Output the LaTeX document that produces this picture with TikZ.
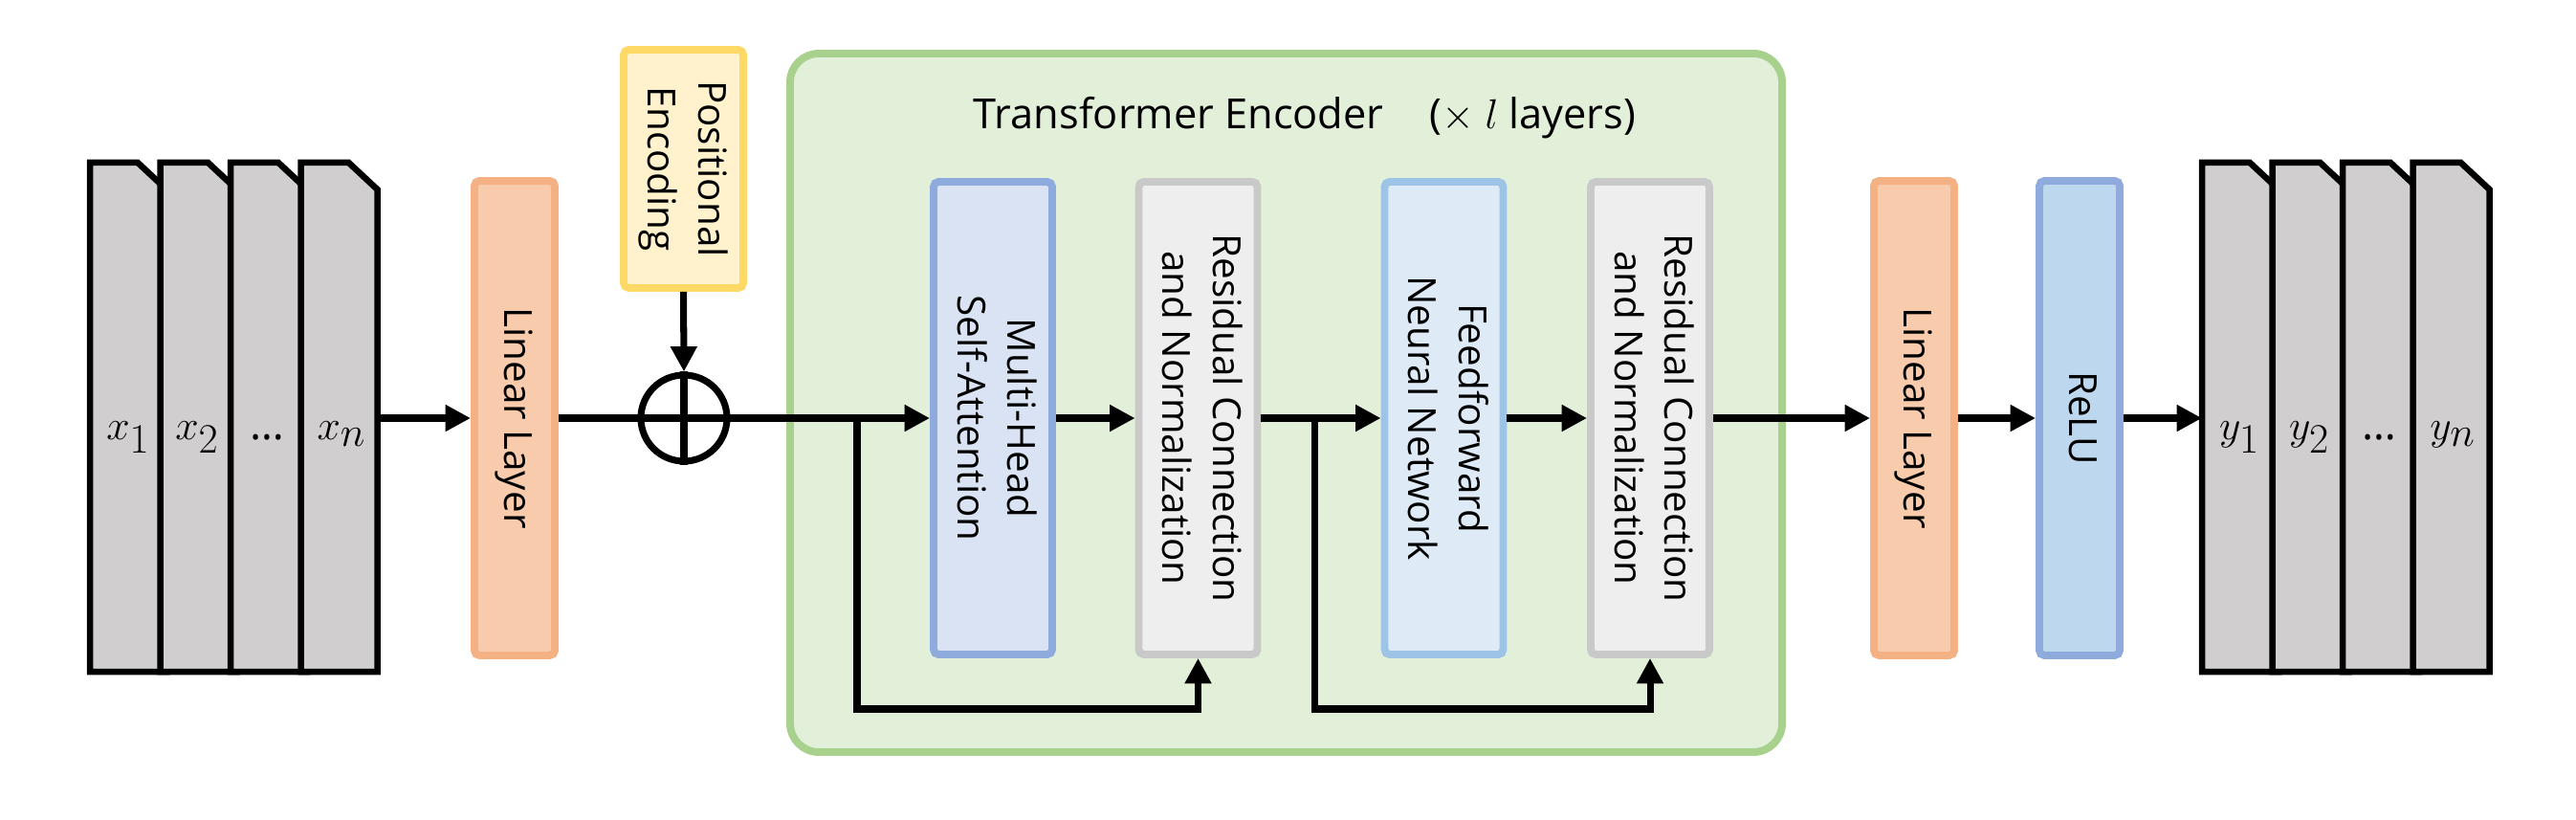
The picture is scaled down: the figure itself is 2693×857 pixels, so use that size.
\documentclass[tikz,border=0pt]{standalone}
\usepackage{fontspec}
\setmainfont{Open Sans}
\usepackage{graphicx}
\usepackage{tikz}
\usetikzlibrary{arrows.meta}

\definecolor{cardgray}{HTML}{D0CECE}
\definecolor{peachfill}{HTML}{F8CBAD}
\definecolor{peachline}{HTML}{F4B183}
\definecolor{yellowfill}{HTML}{FFF2CC}
\definecolor{yellowline}{HTML}{FFD966}
\definecolor{greenfill}{HTML}{E2F0D9}
\definecolor{greenline}{HTML}{A9D18E}
\definecolor{bluefill}{HTML}{DAE3F3}
\definecolor{blueline}{HTML}{8FAADC}
\definecolor{greyfill}{HTML}{EEEEEE}
\definecolor{greyline}{HTML}{C9C9C9}
\definecolor{skyfill}{HTML}{DEEBF7}
\definecolor{skyline}{HTML}{9DC3E6}
\definecolor{relufill}{HTML}{BDD7EE}

\newcommand{\vtext}[1]{\rotatebox{-90}{\begin{tabular}{@{}c@{}}#1\end{tabular}}}
\newcommand{\pxu}{0.02cm}

\tikzset{
	block/.style={draw, line width=4.5pt, rounded corners=3pt, inner sep=0pt,
		font=\fontsize{23}{30}\selectfont},
	tallblock/.style={block, minimum width=84*\pxu, minimum height=496*\pxu},
	encblock/.style={block, minimum width=124*\pxu, minimum height=494*\pxu},
	card/.style={draw, line width=3.7pt, fill=cardgray},
	flow/.style={line width=4pt, -{Triangle[length=15pt,width=15pt]}},
	plain/.style={line width=4pt},
	seq/.style={font=\fontsize{34}{36}\selectfont, anchor=base},
	dots/.style={font=\fontsize{26}{28}\selectfont, anchor=base},
}

\begin{document}
\begin{tikzpicture}[x=\pxu, y=-\pxu]
	\useasboundingbox (0,0) rectangle (2693,857);

	% encoder frame
	\node[draw=greenline, fill=greenfill, line width=4.5pt, rounded corners=17pt,
		minimum width=1037*\pxu, minimum height=730*\pxu] (enc) at (1344.5,421) {};
	\node[font=\fontsize{24.7}{28}\selectfont, anchor=base] (title) at (1364,135)
		{Transformer Encoder\hspace{1.1em}($\times$ $l$ layers)};

	% input sequence
	\foreach \l in {94,167.5,241,314.5}
		\draw[card] (\l,702) -- (\l,170) -- (\l+50,170) -- (\l+80,198) -- (\l+80,702) -- cycle;
	\node[seq] (x1) at (134,460) {$x_1$};
	\node[seq] (x2) at (206,460) {$x_2$};
	\node[dots] (xd) at (279,460) {…};
	\node[seq] (xn) at (357,460) {$x_n$};
	\coordinate (xout) at (394.5,437);

	% output sequence
	\foreach \l in {2302,2375.5,2449,2522.5}
		\draw[card] (\l,702) -- (\l,170) -- (\l+50,170) -- (\l+80,198) -- (\l+80,702) -- cycle;
	\node[seq] (y1) at (2341,460) {$y_1$};
	\node[seq] (y2) at (2414,460) {$y_2$};
	\node[dots] (yd) at (2487,460) {…};
	\node[seq] (yn) at (2564,460) {$y_n$};
	\coordinate (yin) at (2302,437);

	% blocks
	\node[tallblock, draw=peachline, fill=peachfill] (lin1) at (538,437) {\vtext{Linear Layer}};
	\node[block, draw=yellowline, fill=yellowfill, minimum width=125*\pxu,
		minimum height=249*\pxu] (pe) at (714.5,176.5) {\vtext{Positional\\Encoding}};
	\node[draw, circle, line width=4pt, minimum size=90*\pxu, inner sep=0pt] (add) at (715,437) {};
	\node[encblock, draw=blueline, fill=bluefill] (mhsa) at (1038,437) {\vtext{Multi-Head\\Self-Attention}};
	\node[encblock, draw=greyline, fill=greyfill] (res1) at (1252.5,437) {\vtext{Residual Connection\\and Normalization}};
	\node[encblock, draw=skyline, fill=skyfill] (ffn) at (1509.5,437) {\vtext{Feedforward\\Neural Network}};
	\node[encblock, draw=greyline, fill=greyfill] (res2) at (1725,437) {\vtext{Residual Connection\\and Normalization}};
	\node[tallblock, draw=peachline, fill=peachfill] (lin2) at (2001,437) {\vtext{Linear Layer}};
	\node[tallblock, draw=blueline, fill=relufill] (relu) at (2174,437) {\vtext{ReLU}};

	% connections
	\draw[flow] (xout) -- (lin1.west);
	\draw[plain] (lin1.east) -- (add.west);
	\draw[plain] (add.north) -- (add.south);
	\draw[plain] (add.west) -- (add.east);
	\draw[flow] (pe.south) -- (add.north);
	\draw[flow] (add.east) -- (mhsa.west);
	\draw[flow] (mhsa.east) -- (res1.west);
	\draw[flow] (res1.east) -- (ffn.west);
	\draw[flow] (ffn.east) -- (res2.west);
	\draw[flow] (res2.east) -- (lin2.west);
	\draw[flow] (lin2.east) -- (relu.west);
	\draw[flow] (relu.east) -- (yin);

	% skip connections
	\coordinate (b1) at (896,437);
	\coordinate (s1) at (896,741);
	\coordinate (b2) at (1374,437);
	\coordinate (s2) at (1374,741);
	\draw[flow] (b1) -- (s1) -| (res1.south);
	\draw[flow] (b2) -- (s2) -| (res2.south);
\end{tikzpicture}
\end{document}
